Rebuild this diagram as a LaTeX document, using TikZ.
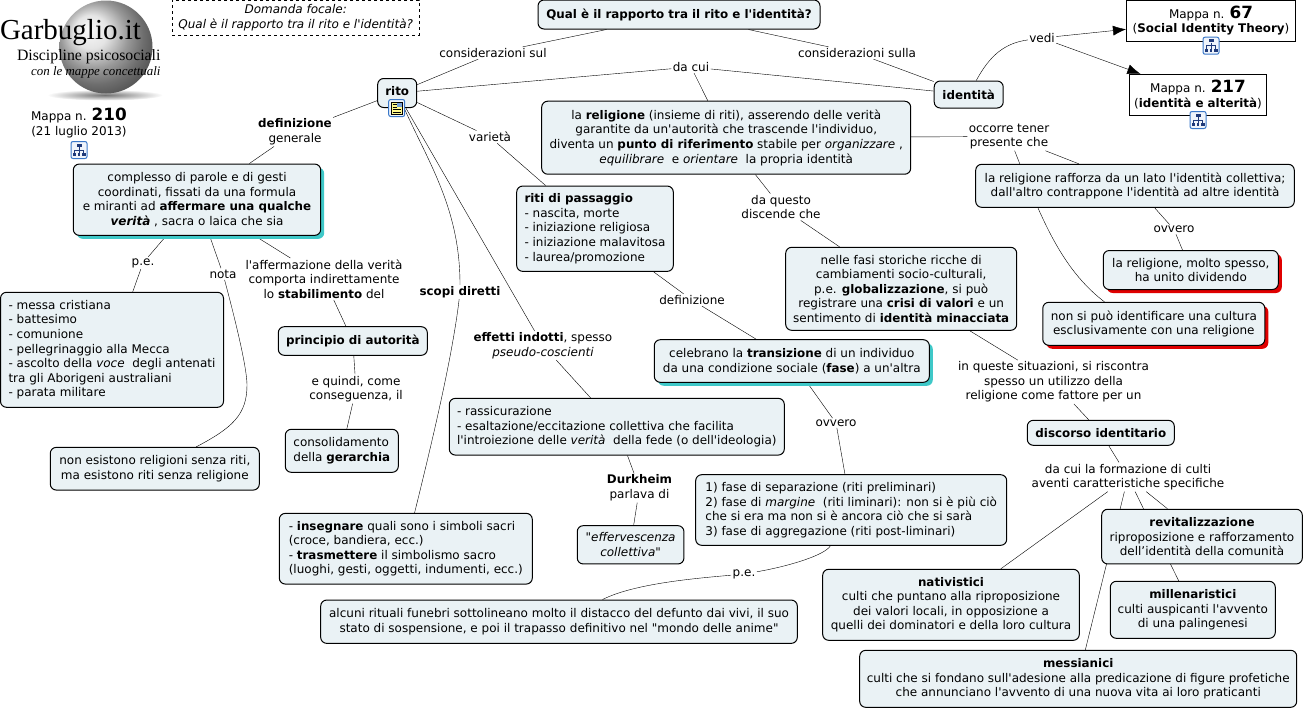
\documentclass[tikz,border=0pt]{standalone}
\usepackage{fontspec}
\setmainfont{DejaVu Sans}[Ligatures=TeXOff, BoldFeatures={Scale=0.99}]
\newfontfamily\logofont{Liberation Serif}
\usetikzlibrary{arrows.meta}
\usetikzlibrary{backgrounds}
\usetikzlibrary{shadows}
\definecolor{boxfill}{HTML}{EAF2F5}
\definecolor{tealshade}{HTML}{3FC8C8}
\definecolor{redshade}{HTML}{E00000}
\definecolor{iconblue}{HTML}{3A78C9}
\definecolor{iconnavy}{HTML}{1F3A7A}
\newcommand{\mapnum}[1]{{\fontsize{17}{14}\selectfont\bfseries #1}}

\begin{document}
\begin{tikzpicture}
	[
	x=1pt, y=-1pt,
	line width=1pt,
	font=\fontsize{12}{14.6}\selectfont,
	> = {Latex[length=13pt,width=10pt]},
	box/.style = {draw, rounded corners=6, fill=boxfill, inner sep=0, align=center},
	leftbox/.style = {box, align=left},
	boxsize/.style 2 args = {minimum width=#1pt, minimum height=#2pt},
	tealbox/.style = {box, general shadow={shadow xshift=3.5pt, shadow yshift=-3.5pt, fill=tealshade}},
	redbox/.style = {box, general shadow={shadow xshift=3.5pt, shadow yshift=-3.5pt, fill=redshade}},
	mapbox/.style = {draw, fill=white, inner sep=0, align=center},
	linklabel/.style = {inner sep=1pt, align=center},
	pics/mapicon/.style = {code={
		\draw[iconblue, fill=iconblue!8, rounded corners=2] (-8,-8.5) rectangle (8,8.5);
		\draw[iconnavy, line width=0.6pt] (0,-3) -- (0,3) (-4.5,3) -- (-4.5,0) -- (4.5,0) -- (4.5,3);
		\fill[iconnavy] (-2.5,-6.5) rectangle (2.5,-3.5);
		\fill[iconnavy] (-6.5,3) rectangle (-3,6);
		\fill[iconnavy] (-1.4,3) rectangle (1.4,6);
		\fill[iconnavy] (3,3) rectangle (6.5,6);
	}},
	pics/noteicon/.style = {code={
		\draw[iconblue, fill=iconblue!8, rounded corners=2] (-8,-8.5) rectangle (8,8.5);
		\draw[black, fill=yellow!45, line width=0.6pt] (-5.5,-6) rectangle (5.5,6);
		\fill[iconblue!70] (0.5,-5.5) rectangle (5,-1);
		\draw[black, line width=0.6pt] (-4,-3.5) -- (0,-3.5) (-4,-1) -- (0,-1) (-4,1.5) -- (4,1.5) (-4,4) -- (4,4);
	}}
	]

	\useasboundingbox (0,0) rectangle (1305,710);

	% logo
	\shade[inner color=black!55, outer color=white] (105,95) ellipse (58 and 5.5);
	\shade[ball color=black!14] (106,47) circle (46.5);
	\node[inner sep=0] (@logo) at (70.5,33) {\logofont\fontsize{29}{29}\selectfont Garbuglio.it};
	\node[inner sep=0, anchor=east] (@discipline) at (161,57) {\logofont\fontsize{15.8}{16}\selectfont Discipline psicosociali};
	\node[inner sep=0, anchor=east] (@mappe) at (161,72) {\logofont\itshape\fontsize{12.9}{14}\selectfont con le mappe concettuali};

	\node[linklabel] (@numero) at (79,123) {Mappa n. \mapnum{210}\\(21 luglio 2013)};
	\pic at (79,150) {mapicon};

	\node[draw, dashed, inner sep=0, align=center, font=\fontsize{12}{14.6}\selectfont\itshape, boxsize={247}{35}] (@focale) at (295.7,17.5) {Domanda focale:\\Qual è il rapporto tra il rito e l'identità?};

	% concetti
	\node[box, boxsize={282}{29}] (@domanda) at (679,14.5) {\textbf{Qual è il rapporto tra il rito e l'identità?}};
	\node[box, boxsize={39}{29}, text depth=4pt] (@rito) at (397.2,93) {\textbf{rito}};
	\node[box, boxsize={69}{27}] (@identita) at (968.7,94.5) {\textbf{identità}};
	\node[mapbox, boxsize={169}{41}] (@mappa67) at (1211,20.5) {Mappa n. \mapnum{67}\\(\textbf{Social Identity Theory})};
	\node[mapbox, boxsize={137}{41}] (@mappa217) at (1198,94.8) {Mappa n. \mapnum{217}\\(\textbf{identità e alterità})};
	\node[box, boxsize={369}{73}] (@religione) at (726.2,137.7) {la \textbf{religione} (insieme di riti), asserendo delle verità\\garantite da un'autorità che trascende l'individuo,\\diventa un \textbf{punto di riferimento} stabile per \emph{organizzare} ,\\\emph{equilibrare}\ \ e \emph{orientare}\ \ la propria identità};
	\node[box, boxsize={318.6}{43}] (@rafforza) at (1135,185.8) {la religione rafforza da un lato l'identità collettiva;\\dall'altro contrappone l'identità ad altre identità};
	\node[redbox, boxsize={175}{39}] (@dividendo) at (1190.8,270) {la religione, molto spesso,\\ha unito dividendo};
	\node[redbox, boxsize={222}{43}] (@cultura) at (1153.8,323.8) {non si può identificare una cultura\\esclusivamente con una religione};
	\node[tealbox, boxsize={247.4}{71.3}] (@complesso) at (197,199.7) {complesso di parole e di gesti\\coordinati, fissati da una formula\\e miranti ad \textbf{affermare una qualche}\\\textbf{\emph{verità}} , sacra o laica che sia};
	\node[leftbox, boxsize={223}{115}] (@messa) at (112,349.8) {- messa cristiana\\- battesimo\\- comunione\\- pellegrinaggio alla Mecca\\- ascolto della \emph{voce}\ \ degli antenati\\tra gli Aborigeni australiani\\- parata militare};
	\node[box, boxsize={209}{42.7}] (@senzariti) at (154.8,468.7) {non esistono religioni senza riti,\\ma esistono riti senza religione};
	\node[box, boxsize={149}{28.6}] (@principio) at (352.8,341) {\textbf{principio di autorità}};
	\node[leftbox, boxsize={113}{43}] (@gerarchia) at (341.8,450.8) {consolidamento\\della \textbf{gerarchia}};
	\node[leftbox, boxsize={253}{70.7}] (@insegnare) at (405.8,548.7) {- \textbf{insegnare} quali sono i simboli sacri\\(croce, bandiera, ecc.)\\- \textbf{trasmettere} il simbolismo sacro\\(luoghi, gesti, oggetti, indumenti, ecc.)};
	\node[leftbox, boxsize={335}{56.7}] (@rassicurazione) at (616.8,426.7) {- rassicurazione\\- esaltazione/eccitazione collettiva che facilita\\l'introiezione delle \emph{verità}\ \ della fede (o dell'ideologia)};
	\node[box, boxsize={106.7}{38.3}, font=\fontsize{12}{14.6}\selectfont\itshape] (@effervescenza) at (630.6,544.8) {"effervescenza\\collettiva"};
	\node[box, boxsize={476.6}{43.3}] (@rituali) at (559,621.7) {alcuni rituali funebri sottolineano molto il distacco del defunto dai vivi, il suo\\stato di sospensione, e poi il trapasso definitivo nel "mondo delle anime"};
	\node[leftbox, boxsize={156.6}{85.3}] (@passaggio) at (595,228.7) {\textbf{riti di passaggio}\\- nascita, morte\\- iniziazione religiosa\\- iniziazione malavitosa\\- laurea/promozione};
	\node[box, boxsize={231}{83}] (@fasi) at (901.2,288.8) {nelle fasi storiche ricche di\\cambiamenti socio-culturali,\\p.e. \textbf{globalizzazione}, si può\\registrare una \textbf{crisi di valori} e un\\sentimento di \textbf{identità minacciata}};
	\node[tealbox, boxsize={275}{42.6}] (@celebrano) at (791.8,361) {celebrano la \textbf{transizione} di un individuo\\da una condizione sociale (\textbf{fase}) a un'altra};
	\node[leftbox, boxsize={311}{70.6}] (@fase) at (851.2,510) {1) fase di separazione (riti preliminari)\\2) fase di \emph{margine}\ \ (riti liminari): non si è più ciò\\che si era ma non si è ancora ciò che si sarà\\3) fase di aggregazione (riti post-liminari)};
	\node[box, boxsize={147}{25}] (@discorso) at (1100.8,432.8) {\textbf{discorso identitario}};
	\node[box, boxsize={200.6}{54.7}] (@revital) at (1202,536.6) {\textbf{revitalizzazione}\\riproposizione e rafforzamento\\dell’identità della comunità};
	\node[box, boxsize={256.6}{71}] (@nativ) at (951,604.8) {\textbf{nativistici}\\culti che puntano alla riproposizione\\dei valori locali, in opposizione a\\quelli dei dominatori e della loro cultura};
	\node[box, boxsize={165}{57}] (@millen) at (1192.8,609.8) {\textbf{millenaristici}\\culti auspicanti l'avvento\\di una palingenesi};
	\node[box, boxsize={437}{57}] (@mess) at (1078.2,678.8) {\textbf{messianici}\\culti che si fondano sull'adesione alla predicazione di figure profetiche\\che annunciano l'avvento di una nuova vita ai loro praticanti};

	% frasi legame
	\node[linklabel] (@sul) at (493,53) {considerazioni sul};
	\node[linklabel] (@sulla) at (857,53) {considerazioni sulla};
	\node[linklabel] (@dacui) at (691,67) {da cui};
	\node[linklabel] (@vedi) at (1042,38) {vedi};
	\node[linklabel] (@occorre) at (1009,136.5) {occorre tener\\presente che};
	\node[linklabel] (@ovvero) at (1174,229.5) {ovvero};
	\node[linklabel] (@questo) at (781,207) {da questo\\discende che};
	\node[linklabel] (@situazioni) at (1053.5,382) {in queste situazioni, si riscontra\\spesso un utilizzo della\\religione come fattore per un};
	\node[linklabel] (@formazione) at (1128,477) {da cui la formazione di culti\\aventi caratteristiche specifiche};
	\node[linklabel] (@generale) at (295,132) {\textbf{definizione}\\generale};
	\node[linklabel] (@pe) at (143,263) {p.e.};
	\node[linklabel] (@nota) at (223,274) {nota};
	\node[linklabel] (@affermazione) at (324,279) {l'affermazione della verità\\comporta indirettamente\\lo \textbf{stabilimento} del};
	\node[linklabel] (@quindi) at (356,389) {e quindi, come\\conseguenza, il};
	\node[linklabel] (@scopi) at (460,292) {\textbf{scopi diretti}};
	\node[linklabel] (@effetti) at (543,345.5) {\textbf{effetti indotti}, spesso\\\emph{pseudo-coscienti}};
	\node[linklabel] (@durkheim) at (639.5,488) {\textbf{Durkheim}\\parlava di};
	\node[linklabel] (@varieta) at (490,137) {varietà};
	\node[linklabel] (@definizione) at (692,300) {definizione};
	\node[linklabel] (@ovveroo) at (836,423) {ovvero};
	\node[linklabel] (@pee) at (744,574) {p.e.};

	\pic at (396.7,108) {noteicon};
	\pic at (1211,45.7) {mapicon};
	\pic at (1198,120) {mapicon};

	\begin{scope}[on background layer]
		\draw (@domanda) -- (@sul) -- (@rito);
		\draw (@domanda) -- (@sulla) -- (@identita);
		\draw (@rito) -- (@dacui) -- (@identita);
		\draw (@dacui) -- (@religione);
		\draw (@identita) .. controls (990,55) and (1005,43) .. (@vedi);
		\draw[->] (@vedi) -- (@mappa67);
		\draw[->] (@vedi) -- (@mappa217);

		\draw (@religione) -- (@occorre) -- (@rafforza);
		\draw (@occorre) .. controls (1040,215) and (1060,268) .. (@cultura.156);
		\draw (@rafforza) -- (@ovvero) -- (@dividendo);
		\draw (@religione) -- (@questo) -- (@fasi);
		\draw (@fasi) -- (@situazioni) -- (@discorso);
		\draw (@discorso) -- (@formazione);
		\draw (@formazione) -- (@revital);
		\draw (@formazione) -- (@nativ);
		\draw (@formazione) -- (@millen);
		\draw (@formazione) -- (@mess);

		\draw (@rito) -- (@generale) -- (@complesso);
		\draw (@complesso) -- (@pe) -- (@messa);
		\draw (@complesso) -- (@nota);
		\draw (@nota) .. controls (238,330) and (247,370) .. (247,385) .. controls (247,415) and (232,428) .. (@senzariti);
		\draw (@complesso) -- (@affermazione) -- (@principio);
		\draw (@principio) -- (@quindi) -- (@gerarchia);

		\draw (@rito) .. controls (430,165) and (460,210) .. (@scopi);
		\draw (@scopi) .. controls (452,360) and (430,450) .. (@insegnare);
		\draw (@rito) -- (@effetti) -- (@rassicurazione);
		\draw (@rassicurazione) -- (@durkheim) -- (@effervescenza);
		\draw (@rito) -- (@varieta) -- (@passaggio);
		\draw (@passaggio) -- (@definizione) -- (@celebrano);
		\draw (@celebrano) -- (@ovveroo) -- (@fase);
		\draw (@fase) .. controls (825,555) and (790,566) .. (@pee);
		\draw (@pee) .. controls (700,578) and (635,583) .. (@rituali);
	\end{scope}

\end{tikzpicture}
\end{document}
